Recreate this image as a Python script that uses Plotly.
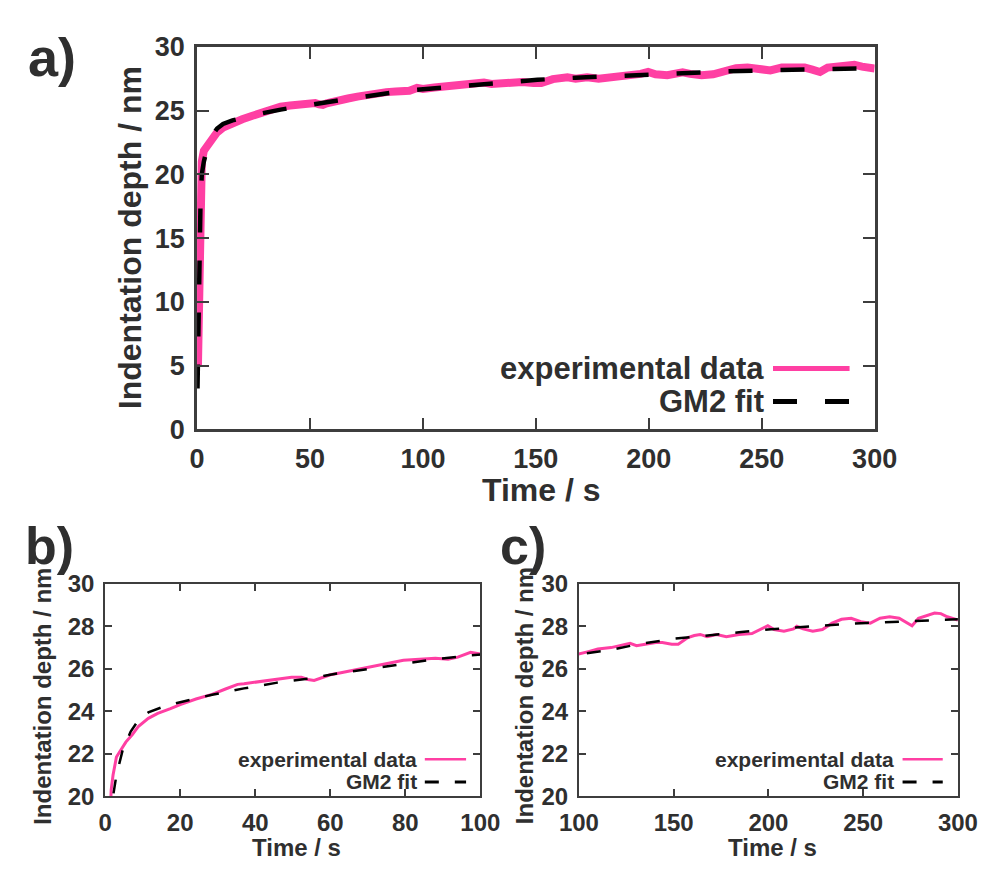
import plotly.graph_objects as go

# Indentation creep curve: measured depth (nm) vs. time (s)
t_exp = [0.4, 0.7, 1.0, 1.3, 1.6, 2.1, 3.0, 4.2, 5.5, 7.2, 8.9, 11.5, 14.0, 17.4, 20.0,
         24.2, 28.5, 31.9, 35.3, 37.0, 41.2, 45.5, 49.7, 52.3, 54.0, 55.7, 57.4, 60.0,
         62.5, 66.8, 71.0, 75.3, 79.5, 83.8, 88.0, 91.4, 94.0, 97.4, 100.0,
         105.0, 110.0, 117.0, 122.0, 127.0, 130.4, 135.5, 140.6, 144.0, 149.0, 152.4,
         157.5, 160.9, 164.0, 167.6, 172.7, 177.8, 184.5, 191.3, 196.4, 199.7, 203.0,
         208.2, 213.3, 215.0, 218.3, 223.4, 228.5, 233.6, 238.6, 243.7, 248.8, 253.8,
         258.9, 264.0, 269.0, 272.4, 275.8, 279.2, 284.3, 287.7, 291.0, 294.4, 300.0]
d_exp = [5.0, 10.5, 15.5, 18.8, 20.3, 21.0, 21.85, 22.2, 22.55, 22.9, 23.3, 23.67, 23.9, 24.13, 24.32,
         24.58, 24.8, 25.04, 25.27, 25.3, 25.4, 25.5, 25.6, 25.6, 25.5, 25.45, 25.57, 25.72,
         25.8, 25.95, 26.1, 26.25, 26.4, 26.45, 26.5, 26.45, 26.55, 26.78, 26.7,
         26.81, 26.93, 27.0, 27.1, 27.2, 27.09, 27.16, 27.24, 27.24, 27.16, 27.16,
         27.47, 27.57, 27.62, 27.51, 27.62, 27.51, 27.62, 27.66, 27.88, 28.03, 27.85,
         27.77, 27.88, 28.0, 27.88, 27.77, 27.85, 28.15, 28.33, 28.38, 28.22, 28.15,
         28.38, 28.45, 28.38, 28.22, 28.03, 28.38, 28.53, 28.63, 28.6, 28.45, 28.3]

# Two-element generalized Maxwell (GM2) fit
t_fit = [0.2, 0.5, 1.0, 1.5, 2.1, 3.0, 4.7, 6.8, 8.9, 11.5, 15.7, 20.0, 28.5, 37.0, 45.5,
         54.0, 62.5, 71.0, 79.5, 88.0, 97.4, 100.0, 117.0, 133.8, 150.7, 167.6, 184.5,
         201.4, 218.3, 235.2, 252.0, 269.0, 286.0, 300.0]
d_fit = [3.2, 8.0, 14.0, 17.5, 20.0, 21.0, 22.2, 23.05, 23.6, 23.95, 24.23, 24.43, 24.78, 25.08, 25.34,
         25.54, 25.8, 26.02, 26.25, 26.45, 26.64, 26.68, 26.9, 27.2, 27.42, 27.58, 27.72,
         27.86, 27.98, 28.08, 28.16, 28.23, 28.29, 28.33]

x_ticks_a = [0, 50, 100, 150, 200, 250, 300]
y_ticks_a = [0, 5, 10, 15, 20, 25, 30]
x_ticks_b = [0, 20, 40, 60, 80, 100]
x_ticks_c = [100, 150, 200, 250, 300]
y_ticks_bc = [20, 22, 24, 26, 28, 30]

PINK = "#ff3fa3"
TXT = "#2f2f2f"
AX = "#3d3d3d"
FONT = "Liberation Sans"
W, H = 1001, 877


def px_x(p):
    return p / W


def px_y(p):
    return 1 - p / H


fig = go.Figure()

panels = [
    ("x", "y", 8, 4.5, "24px,28px"),
    ("x2", "y2", 3, 2.5, "14px,16px"),
    ("x3", "y3", 3, 2.5, "14px,16px"),
]
for xa, ya, pw, fw, dash in panels:
    fig.add_trace(go.Scatter(x=t_exp, y=d_exp, mode="lines", xaxis=xa, yaxis=ya,
                             line=dict(color=PINK, width=pw), showlegend=False))
    fig.add_trace(go.Scatter(x=t_fit, y=d_fit, mode="lines", xaxis=xa, yaxis=ya,
                             line=dict(color="black", width=fw, dash=dash), showlegend=False))


def axis(domain, rng, ticks, size, ticklen, lw, anchor):
    return dict(domain=domain, range=rng, tickvals=ticks, ticks="inside", ticklen=ticklen,
                tickwidth=1.5, tickcolor=AX, showline=True, linecolor=AX, linewidth=lw,
                mirror="ticks", showgrid=False, zeroline=False, anchor=anchor,
                tickfont=dict(family=FONT, size=size, color=TXT, weight="bold"),
                ticklabelstandoff=4)


dom_a_x = [px_x(185), px_x(893)]
dom_a_y = [px_y(429), px_y(33)]
dom_b_x = [px_x(89), px_x(481)]
dom_c_x = [px_x(584), px_x(980)]
dom_bc_y = [px_y(809), px_y(589)]

fig.update_layout(
    width=W, height=H, margin=dict(l=0, r=0, t=0, b=0),
    paper_bgcolor="white", plot_bgcolor="white",
    xaxis=axis(dom_a_x, [0, 300], x_ticks_a, 27, 12, 2.5, "y"),
    yaxis=axis(dom_a_y, [0, 30], y_ticks_a, 27, 12, 2.5, "x"),
    xaxis2=axis(dom_b_x, [0, 100], x_ticks_b, 24, 7, 2, "y2"),
    yaxis2=axis(dom_bc_y, [20, 30], y_ticks_bc, 24, 7, 2, "x2"),
    xaxis3=axis(dom_c_x, [100, 300], x_ticks_c, 24, 7, 2, "y3"),
    yaxis3=axis(dom_bc_y, [20, 30], y_ticks_bc, 24, 7, 2, "x3"),
)

ann = []


def label(text, x, y, size, angle=0, xanchor="center"):
    ann.append(dict(text=text, x=x, y=y, xref="paper", yref="paper", showarrow=False,
                    xanchor=xanchor, yanchor="middle", textangle=angle,
                    font=dict(family=FONT, size=size, color=TXT, weight="bold")))


# axis titles
label("Time / s", px_x(545), px_y(492), 32)
label("Indentation depth / nm", px_x(115), px_y(231), 32, -90)
label("Time / s", px_x(289), px_y(862), 24)
label("Indentation depth / nm", px_x(24), px_y(705), 24, -90)
label("Time / s", px_x(786), px_y(862), 24)
label("Indentation depth / nm", px_x(528), px_y(705), 24, -90)

# panel letters
label("a)", px_x(33), px_y(44), 54)
label("b)", px_x(31), px_y(550), 52)
label("c)", px_x(526), px_y(550), 52)

# legends: text on the left, sample line on the right
shapes = []
legend_specs = [
    ("x", "y", 31, 0.840, 0.850, 0.963, 0.159, 0.073, 5, 5, "24px,28px"),
    ("x2", "y2", 21, 0.837, 0.852, 0.962, 0.175, 0.068, 2.5, 3, "14px,16px"),
    ("x3", "y3", 21, 0.836, 0.854, 0.960, 0.175, 0.068, 2.5, 3, "14px,16px"),
]
for xa, ya, fs, tx, l0, l1, r1, r2, pw, fw, dash in legend_specs:
    for txt, ry in (("experimental data", r1), ("GM2 fit", r2)):
        ann.append(dict(text=txt, x=tx, y=ry, xref=f"{xa} domain", yref=f"{ya} domain",
                        showarrow=False, xanchor="right", yanchor="middle",
                        font=dict(family=FONT, size=fs, color=TXT, weight="bold")))
    shapes.append(dict(type="line", xref=f"{xa} domain", yref=f"{ya} domain",
                       x0=l0, x1=l1, y0=r1, y1=r1, line=dict(color=PINK, width=pw)))
    shapes.append(dict(type="line", xref=f"{xa} domain", yref=f"{ya} domain",
                       x0=l0, x1=l1, y0=r2, y1=r2,
                       line=dict(color="black", width=fw, dash=dash)))

fig.update_layout(annotations=ann, shapes=shapes)

fig.write_html("out.html")
